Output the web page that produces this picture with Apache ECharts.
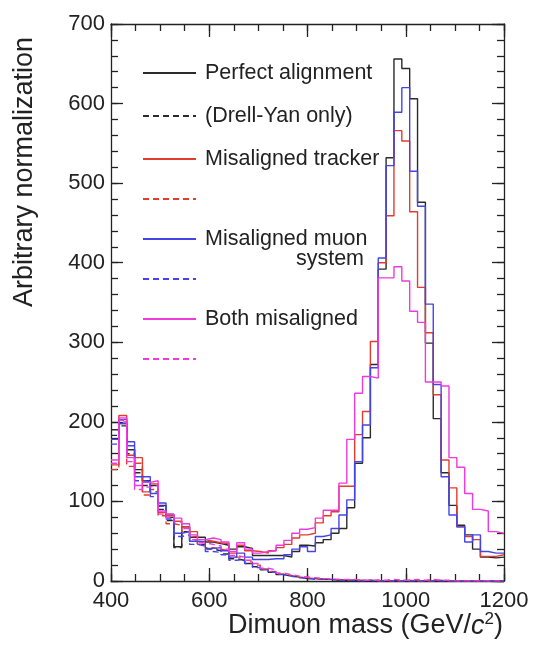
<!DOCTYPE html>
<html>
<head>
<meta charset="utf-8">
<script src="https://cdn.jsdelivr.net/npm/echarts@6/dist/echarts.min.js"></script>
<style>
html,body{margin:0;padding:0;background:#fff;}
#chart{width:535px;height:658px;}
</style>
</head>
<body>
<div id="chart"></div>
<script>
// ---- Data (50 bins of 16 GeV from 400 to 1200) ----
const BIN_START = 400;
const BIN_WIDTH = 16;
const xTicks = [400, 600, 800, 1000, 1200];
const yTicks = [0, 100, 200, 300, 400, 500, 600, 700];
const xMinorStep = 50;
const yMinorStep = 20;

const perfect = [190, 198, 165, 140, 126, 120, 95, 80, 43, 68, 55, 55, 49, 47, 45, 40, 43, 41, 32, 32, 32, 32, 30, 37, 45, 44, 48, 52, 60, 66, 92, 148, 180, 272, 392, 532, 656, 644, 606, 476, 299, 204, 136, 95, 70, 58, 40, 30, 29, 30];
const perfectDY = [183, 195, 160, 136, 120, 112, 90, 76, 42, 62, 50, 46, 40, 38, 34, 28, 26, 22, 18, 14, 11, 8, 6, 5, 3, 3, 2, 2, 1, 1, 1, 1, 0, 1, 0, 0, 1, 0, 0, 0, 0, 0, 0, 0, 0, 0, 0, 0, 0, 0];

const tracker = [146, 208, 158, 155, 112, 122, 86, 82, 75, 68, 62, 52, 50, 48, 47, 35, 45, 38, 37, 35, 38, 42, 46, 54, 58, 60, 73, 82, 87, 119, 119, 184, 213, 301, 400, 459, 566, 553, 464, 369, 312, 234, 152, 117, 68, 56, 52, 31, 31, 33];
const trackerDY = [140, 200, 144, 148, 108, 115, 82, 72, 70, 62, 56, 46, 42, 40, 38, 30, 30, 24, 20, 15, 12, 9, 7, 5, 4, 3, 3, 2, 2, 1, 1, 1, 1, 0, 1, 0, 0, 1, 0, 0, 0, 1, 0, 0, 0, 0, 0, 0, 0, 0];

const muon = [178, 203, 175, 131, 131, 110, 98, 84, 60, 62, 50, 49, 41, 42, 38, 30, 35, 30, 27, 27, 28, 28, 33, 40, 43, 37, 56, 58, 66, 83, 102, 150, 196, 268, 406, 522, 589, 620, 515, 471, 348, 247, 131, 83, 68, 49, 58, 37, 35, 35];
const muonDY = [172, 198, 170, 126, 125, 106, 94, 78, 56, 58, 46, 44, 37, 36, 33, 26, 27, 22, 17, 14, 11, 8, 6, 4, 3, 2, 2, 2, 1, 1, 1, 0, 1, 0, 0, 0, 0, 0, 0, 0, 0, 0, 0, 0, 0, 0, 0, 0, 0, 0];

const both = [152, 205, 155, 120, 124, 126, 88, 84, 79, 72, 58, 52, 54, 52, 49, 37, 48, 40, 35, 37, 38, 45, 51, 60, 65, 67, 79, 89, 89, 123, 178, 236, 257, 255, 381, 381, 395, 377, 339, 325, 250, 250, 245, 155, 143, 110, 90, 88, 62, 60];
const bothDY = [148, 202, 150, 115, 118, 120, 84, 80, 74, 66, 52, 48, 46, 44, 40, 32, 30, 26, 22, 16, 14, 10, 8, 6, 5, 4, 3, 3, 2, 2, 2, 1, 1, 1, 1, 2, 1, 1, 2, 1, 2, 1, 1, 0, 0, 0, 0, 0, 0, 0];

const legendLabels = {
  'Perfect alignment': 'Perfect alignment',
  '(Drell-Yan only)': '(Drell-Yan only)',
  'Misaligned tracker': 'Misaligned tracker',
  'Misaligned tracker (Drell-Yan only)': '',
  'Misaligned muon system': 'Misaligned muon',
  'Misaligned muon system (Drell-Yan only)': '',
  'Both misaligned': 'Both misaligned',
  'Both misaligned (Drell-Yan only)': ''
};

// ---- Build ----
const FONT = '"Liberation Sans", Arial, Helvetica, sans-serif';
const C_BLACK = '#2a2a2a', C_RED = '#e23c2c', C_BLUE = '#4444ea', C_PINK = '#ee3ade';

function histData(vals) {
  const d = vals.map((v, i) => [BIN_START + i * BIN_WIDTH, v]);
  d.push([BIN_START + vals.length * BIN_WIDTH, vals[vals.length - 1]]);
  return d;
}
function histSeries(name, vals, color, dashed, z) {
  return {
    name: name,
    type: 'line',
    step: 'end',
    symbol: 'none',
    xAxisIndex: 0, yAxisIndex: 0,
    data: histData(vals),
    lineStyle: { color: color, width: 1.4, type: dashed ? [6, 4] : 'solid' },
    itemStyle: { color: color },
    z: z,
    silent: true,
    animation: false
  };
}

const series = [
  histSeries('Perfect alignment', perfect, C_BLACK, false, 5),
  histSeries('(Drell-Yan only)', perfectDY, C_BLACK, true, 5),
  histSeries('Misaligned tracker', tracker, C_RED, false, 6),
  histSeries('Misaligned tracker (Drell-Yan only)', trackerDY, C_RED, true, 6),
  histSeries('Misaligned muon system', muon, C_BLUE, false, 7),
  histSeries('Misaligned muon system (Drell-Yan only)', muonDY, C_BLUE, true, 7),
  histSeries('Both misaligned', both, C_PINK, false, 8),
  histSeries('Both misaligned (Drell-Yan only)', bothDY, C_PINK, true, 8)
];

const axisLineOn = { show: true, onZero: false, lineStyle: { color: '#222', width: 1.3 } };
const axisLineOff = { show: false, onZero: false };
const tickStyle = { color: '#222', width: 1.3 };
const xMin = xTicks[0], xMax = xTicks[xTicks.length - 1];
const yMin = yTicks[0], yMax = yTicks[yTicks.length - 1];

function xAx(position, interval, tickLen, showLine, showLabel) {
  return {
    type: 'value', position: position, min: xMin, max: xMax, interval: interval,
    axisLine: showLine ? axisLineOn : axisLineOff,
    axisTick: { show: true, inside: true, length: tickLen, lineStyle: tickStyle },
    axisLabel: showLabel ? { show: true, margin: 9, fontSize: 22, fontFamily: FONT, color: '#222', formatter: v => String(v) } : { show: false },
    splitLine: { show: false }
  };
}
function yAx(position, interval, tickLen, showLine, showLabel) {
  return {
    type: 'value', position: position, min: yMin, max: yMax, interval: interval,
    axisLine: showLine ? axisLineOn : axisLineOff,
    axisTick: { show: true, inside: true, length: tickLen, lineStyle: tickStyle },
    axisLabel: showLabel ? { show: true, margin: 6, fontSize: 22, fontFamily: FONT, color: '#222', formatter: v => String(v) } : { show: false },
    splitLine: { show: false }
  };
}

const option = {
  backgroundColor: '#fff',
  animation: false,
  grid: { left: 111, right: 31, top: 24, bottom: 77, containLabel: false },
  xAxis: [
    xAx('bottom', xTicks[1] - xTicks[0], 13, true, true),
    xAx('top', xTicks[1] - xTicks[0], 13, true, false),
    xAx('bottom', xMinorStep, 7, false, false),
    xAx('top', xMinorStep, 7, false, false)
  ],
  yAxis: [
    yAx('left', yTicks[1] - yTicks[0], 12, true, true),
    yAx('right', yTicks[1] - yTicks[0], 12, true, false),
    yAx('left', yMinorStep, 7, false, false),
    yAx('right', yMinorStep, 7, false, false)
  ],
  legend: {
    orient: 'vertical',
    left: 142, top: 62,
    padding: 0,
    itemWidth: 53, itemHeight: 20, itemGap: 21,
    selectedMode: false,
    itemStyle: { opacity: 0, borderWidth: 0 },
    textStyle: { fontSize: 21.5, fontFamily: FONT, color: '#222', padding: [0, 0, 0, 4], lineHeight: 20 },
    formatter: function (name) { return legendLabels[name]; },
    data: series.map(s => s.name)
  },
  graphic: [
    {
      type: 'text', x: 364, y: 259,
      style: { text: 'system', font: '21.5px ' + FONT, fill: '#222', textAlign: 'right', textVerticalAlign: 'middle' }
    },
    {
      type: 'text', x: 25, y: 172, rotation: Math.PI / 2,
      style: { text: 'Arbitrary normalization', font: '27px ' + FONT, fill: '#222', textAlign: 'center', textVerticalAlign: 'middle' }
    },
    {
      type: 'text', x: 503, y: 626,
      style: {
        text: 'Dimuon mass (GeV/{i|c}{s|2})',
        font: '27px ' + FONT, fill: '#222', textAlign: 'right', textVerticalAlign: 'middle',
        rich: {
          i: { fontSize: 27, fontStyle: 'italic', fontFamily: FONT, fill: '#222' },
          s: { fontSize: 17, fontFamily: FONT, fill: '#222', verticalAlign: 'top', lineHeight: 30 }
        }
      }
    }
  ],
  series: series
};

const chart = echarts.init(document.getElementById('chart'), null, { renderer: 'canvas' });
chart.setOption(option);
</script>
</body>
</html>
